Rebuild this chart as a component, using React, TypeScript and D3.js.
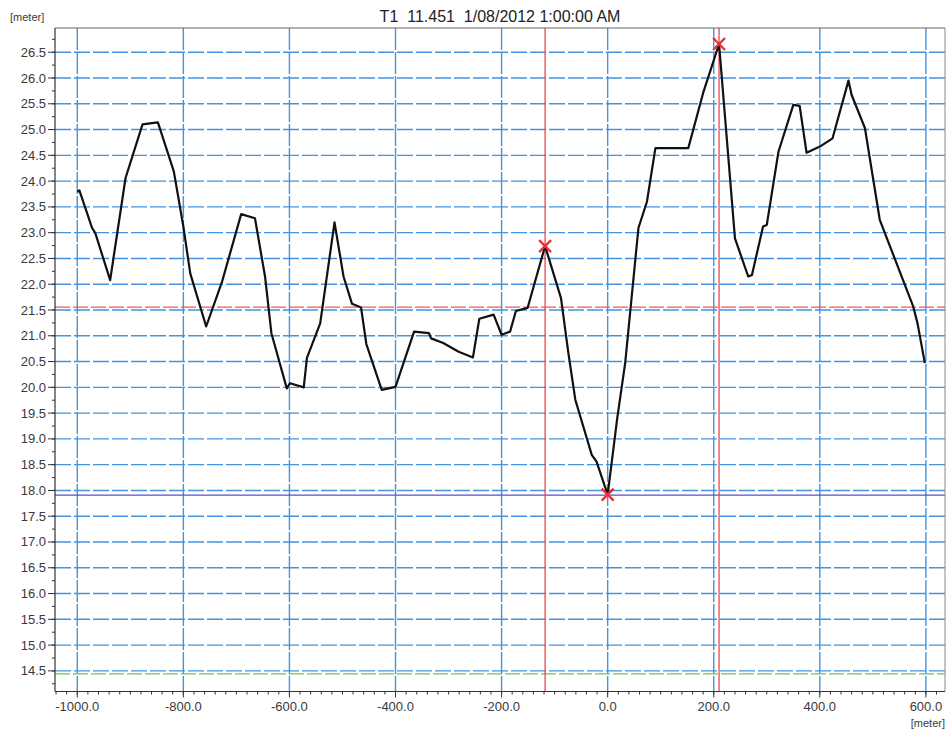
import React from "react";
import * as d3 from "d3";

const xs = [-1000, -996, -972, -966, -938, -909, -877, -848, -818, -800, -787, -757, -727, -691, -665, -646, -634, -605, -599, -573, -567, -542, -515, -498, -482, -465, -455, -426, -400, -385, -365, -337, -333, -310, -281, -254, -242, -215, -200, -184, -173, -151, -118, -88, -74, -61, -30, -21, 0, 18, 33, 58, 74, 90, 152, 180, 210, 240, 265, 272, 293, 300, 322, 350, 362, 375, 400, 424, 454, 460, 485, 513, 576, 584, 598];
const ys = [23.80, 23.82, 23.09, 22.99, 22.08, 24.06, 25.10, 25.14, 24.19, 23.12, 22.21, 21.18, 22.05, 23.36, 23.28, 22.15, 21.05, 19.98, 20.08, 20.00, 20.57, 21.24, 23.20, 22.15, 21.62, 21.55, 20.84, 19.95, 20.01, 20.47, 21.08, 21.05, 20.95, 20.86, 20.69, 20.58, 21.33, 21.41, 21.02, 21.08, 21.48, 21.54, 22.74, 21.73, 20.66, 19.76, 18.69, 18.56, 17.92, 19.40, 20.47, 23.09, 23.60, 24.64, 24.64, 25.71, 26.66, 22.89, 22.15, 22.18, 23.12, 23.15, 24.57, 25.48, 25.46, 24.55, 24.67, 24.83, 25.95, 25.67, 25.03, 23.25, 21.57, 21.25, 20.47];

const markerXs = [-118, 0, 210];
const markerYs = [22.74, 17.92, 26.66];
const cursorXs = [-118, 210];
const levelRed = 21.555;
const levelBlue = 17.91;
const levelGreen = 14.44;

const xDomain = [-1042, 636];
const yDomain = [14.1, 26.97];
const xTicks = d3.range(-1000, 601, 200);
const yTicks = d3.range(14.5, 26.51, 0.5);
const xMinor = d3.range(-1040, 637, 20);
const yMinor = d3.range(14.25, 26.96, 0.25);
const title = "T1  11.451  1/08/2012 1:00:00 AM";
const unit = "[meter]";

const W = 949, H = 729;
const L = 55, R = 945, T = 28, B = 691.5;

export default function App() {
  const x = d3.scaleLinear().domain(xDomain).range([L, R]);
  const y = d3.scaleLinear().domain(yDomain).range([B, T]);
  const pts = xs.map((v, i) => [v, ys[i]] as [number, number]);
  const line = d3.line<[number, number]>().x(d => x(d[0])).y(d => y(d[1]));
  const grid = "#4393de";
  const font = "'Liberation Sans', Arial, sans-serif";
  const txt = "#3a3a3a";
  return (
    <svg width={W} height={H} style={{ position: "absolute", left: 0, top: 0, display: "block", background: "#fff" }} fontFamily={font}>
      <rect x={0} y={0} width={W} height={H} fill="#fff" />
      {xTicks.map(t => (
        <line key={"vg" + t} x1={x(t)} x2={x(t)} y1={T} y2={B} stroke={grid} strokeWidth={1.4} strokeDasharray="22,2" />
      ))}
      {yTicks.map(t => (
        <line key={"hg" + t} x1={L} x2={R} y1={y(t)} y2={y(t)} stroke={grid} strokeWidth={1.4} strokeDasharray="16,3" />
      ))}
      <line x1={L} x2={R} y1={y(levelRed)} y2={y(levelRed)} stroke="#f05a5a" strokeWidth={1.3} strokeDasharray="15,3" />
      <line x1={L} x2={R} y1={y(levelBlue)} y2={y(levelBlue)} stroke="#5a4fc8" strokeWidth={1.4} />
      <line x1={L} x2={R} y1={y(levelGreen)} y2={y(levelGreen)} stroke="#5fd04a" strokeWidth={1.3} strokeDasharray="15,3" />
      {cursorXs.map(c => (
        <line key={"cx" + c} x1={x(c)} x2={x(c)} y1={T} y2={B} stroke="#ea4a4a" strokeWidth={1.3} />
      ))}
      <path d={line(pts) || ""} fill="none" stroke="#111" strokeWidth={2.2} strokeLinejoin="round" />
      {markerXs.map((m, i) => {
        const cx = x(m), cy = y(markerYs[i]), s = 6;
        return (
          <g key={"mk" + i} stroke="#e8303a" strokeWidth={2.4}>
            <line x1={cx - s} y1={cy - s} x2={cx + s} y2={cy + s} />
            <line x1={cx - s} y1={cy + s} x2={cx + s} y2={cy - s} />
          </g>
        );
      })}
      <line x1={L} x2={R} y1={T} y2={T} stroke="#666" strokeWidth={1.2} />
      <line x1={R} x2={R} y1={T} y2={B} stroke="#888" strokeWidth={1} />
      <line x1={L} x2={L} y1={T} y2={B} stroke="#333" strokeWidth={1.2} />
      <line x1={L} x2={R} y1={B} y2={B} stroke="#333" strokeWidth={1.2} />
      {yMinor.map(t => (
        <line key={"ym" + t} x1={L - 3} x2={L} y1={y(t)} y2={y(t)} stroke="#333" strokeWidth={1} />
      ))}
      {yTicks.map(t => (
        <g key={"yt" + t}>
          <line x1={L - 7} x2={L} y1={y(t)} y2={y(t)} stroke="#333" strokeWidth={1} />
          <text x={L - 9} y={y(t) + 4.5} textAnchor="end" fontSize={13} fill={txt}>{t.toFixed(1)}</text>
        </g>
      ))}
      {xMinor.map(t => (
        <line key={"xm" + t} x1={x(t)} x2={x(t)} y1={B} y2={B + 3} stroke="#333" strokeWidth={1} />
      ))}
      {xTicks.map(t => (
        <g key={"xt" + t}>
          <line x1={x(t)} x2={x(t)} y1={B} y2={B + 6} stroke="#333" strokeWidth={1} />
          <text x={x(t)} y={711} textAnchor="middle" fontSize={13} fill={txt}>{t.toFixed(1)}</text>
        </g>
      ))}
      <text x={10} y={21} fontSize={11} fill={txt}>{unit}</text>
      <text x={R} y={727} textAnchor="end" fontSize={11} fill={txt}>{unit}</text>
      <text x={(L + R) / 2} y={22} textAnchor="middle" fontSize={16} fill="#222" style={{ whiteSpace: "pre" }}>{title}</text>
    </svg>
  );
}
